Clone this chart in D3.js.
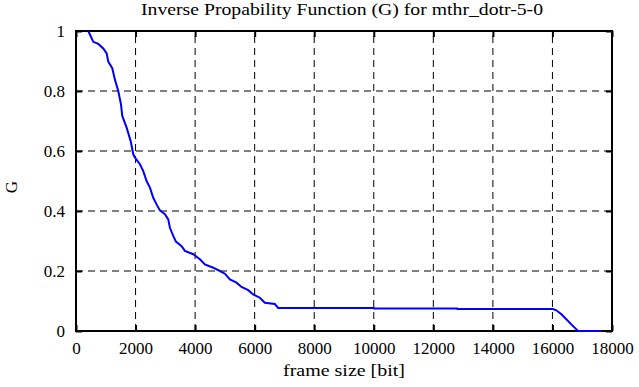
<!DOCTYPE html>
<html>
<head>
<meta charset="utf-8">
<script src="https://cdn.jsdelivr.net/npm/d3@7"></script>
<style>
  body { margin: 0; background: #fff; }
  svg { display: block; }
  svg text { font-family: "Liberation Serif", "Times New Roman", serif; fill: #000; }
</style>
</head>
<body>
<div id="chart"></div>
<script>
// frame size [bit] and G values
let frameSize = [413, 581, 748, 916, 1030, 1084, 1218, 1309, 1420, 1510, 1554, 1700, 1836, 1924,
    1980, 2148, 2259, 2371, 2483, 2594, 2706, 2818, 2987, 3098, 3154, 3266, 3356, 3546, 3658,
    3937, 4161, 4329, 4608, 4832, 5000, 5168, 5391, 5559, 5783, 5950, 6174, 6342, 6678, 6789,
    10000, 10010, 12800, 12810, 16017, 16130, 16300, 16466, 16634, 16857, 17640];
let gValues = [1.0, 0.964, 0.957, 0.942, 0.925, 0.898, 0.876, 0.837, 0.80, 0.756, 0.717, 0.678, 0.633, 0.589,
    0.578, 0.556, 0.533, 0.50, 0.478, 0.444, 0.422, 0.402, 0.389, 0.372, 0.344, 0.317, 0.298, 0.283, 0.267,
    0.256, 0.239, 0.222, 0.211, 0.20, 0.191, 0.172, 0.161, 0.147, 0.136, 0.122, 0.111, 0.094, 0.09, 0.077,
    0.077, 0.075, 0.075, 0.073, 0.073, 0.069, 0.056, 0.039, 0.022, 0.0, 0.0];
let xTicks = [0, 2000, 4000, 6000, 8000, 10000, 12000, 14000, 16000, 18000];
let yTicks = [0, 0.2, 0.4, 0.6, 0.8, 1];

let width = 639,
    height = 387,
    margin = { top: 31, right: 27, bottom: 56, left: 76 };

let svg = d3.select('#chart').append('svg')
    .attr('width', width)
    .attr('height', height);

let x = d3.scaleLinear().domain([0, 18000]).range([margin.left, width - margin.right]);
let y = d3.scaleLinear().domain([0, 1]).range([height - margin.bottom, margin.top]);

// grid
svg.append('g').selectAll('line')
    .data(xTicks.slice(1, -1))
    .enter().append('line')
    .attr('x1', d => x(d)).attr('x2', d => x(d))
    .attr('y1', y(0)).attr('y2', y(1))
    .style('stroke', '#000').style('stroke-width', 1).style('stroke-dasharray', '7,5');

svg.append('g').selectAll('line')
    .data(yTicks.slice(1, -1))
    .enter().append('line')
    .attr('x1', x(0)).attr('x2', x(18000))
    .attr('y1', d => y(d)).attr('y2', d => y(d))
    .style('stroke', '#000').style('stroke-width', 1).style('stroke-dasharray', '7,5');

// axes with inner ticks
let xAxis = svg.append('g')
    .attr('transform', 'translate(0,' + y(0) + ')')
    .call(d3.axisBottom(x).tickValues(xTicks).tickFormat(d3.format('d')).tickSizeInner(-6).tickSizeOuter(0).tickPadding(11));
let yAxis = svg.append('g')
    .attr('transform', 'translate(' + x(0) + ',0)')
    .call(d3.axisLeft(y).tickValues(yTicks).tickFormat(d3.format('')).tickSizeInner(-6).tickSizeOuter(0).tickPadding(11));
let xTop = svg.append('g')
    .attr('transform', 'translate(0,' + y(1) + ')')
    .call(d3.axisTop(x).tickValues(xTicks).tickSizeInner(-6).tickSizeOuter(0).tickFormat(''));
let yRight = svg.append('g')
    .attr('transform', 'translate(' + x(18000) + ',0)')
    .call(d3.axisRight(y).tickValues(yTicks).tickSizeInner(-6).tickSizeOuter(0).tickFormat(''));

[xAxis, yAxis, xTop, yRight].forEach(function(a) {
    a.attr('font-family', '"Liberation Serif", serif').attr('font-size', 17);
    a.select('.domain').remove();
    a.selectAll('line').style('stroke', '#000').style('stroke-width', 2);
    a.selectAll('text').style('fill', '#000');
});

// frame
svg.append('rect')
    .attr('x', x(0)).attr('y', y(1))
    .attr('width', x(18000) - x(0)).attr('height', y(0) - y(1))
    .style('fill', 'none').style('stroke', '#000').style('stroke-width', 2);

// curve
let points = frameSize.map((d, i) => [d, gValues[i]]);
let line = d3.line().x(d => x(d[0])).y(d => y(d[1]));
svg.append('path')
    .datum(points)
    .attr('d', line)
    .style('fill', 'none').style('stroke', '#0000ff').style('stroke-width', 2);

// labels
svg.append('text')
    .attr('x', 141).attr('y', 15)
    .attr('textLength', 402).attr('lengthAdjust', 'spacingAndGlyphs')
    .style('font-size', '16px')
    .text('Inverse Propability Function (G) for mthr_dotr-5-0');

svg.append('text')
    .attr('x', 283).attr('y', 376)
    .attr('textLength', 122).attr('lengthAdjust', 'spacingAndGlyphs')
    .style('font-size', '17px')
    .text('frame size [bit]');

svg.append('text')
    .attr('transform', 'translate(17,' + (y(0.48)) + ') rotate(-90)')
    .attr('text-anchor', 'middle')
    .style('font-size', '17px')
    .text('G');
</script>
</body>
</html>
